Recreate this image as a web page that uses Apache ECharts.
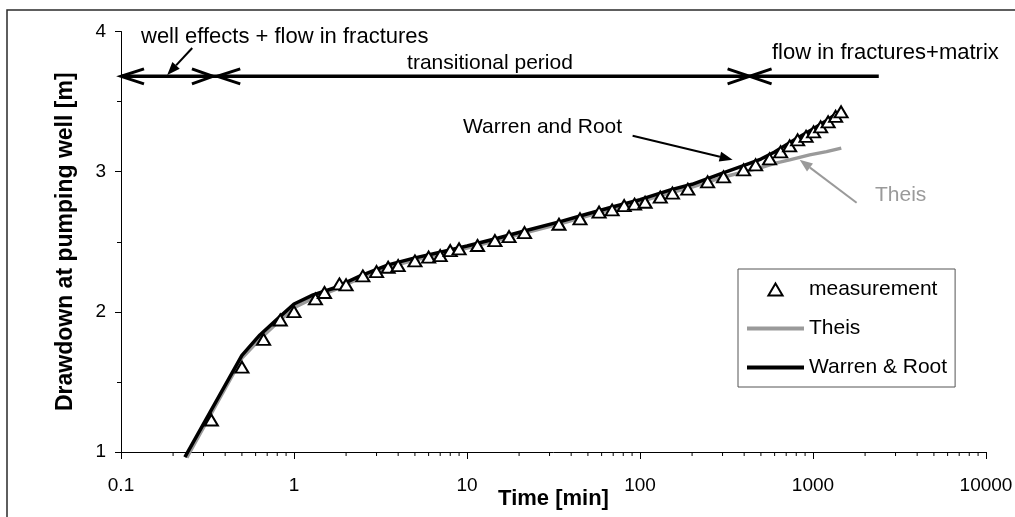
<!DOCTYPE html>
<html><head><meta charset="utf-8">
<script src="https://cdn.jsdelivr.net/npm/echarts@6/dist/echarts.min.js"></script>
<style>html,body{margin:0;padding:0;background:#fff}#c{width:1015px;height:517px}</style>
</head><body><div id="c"></div>
<script>
// ---- data ----
const measTime = [0.333,0.5,0.667,0.833,1,1.33,1.5,1.83,2,2.5,3,3.5,4,5,6,7,8,9,11.5,14.5,17.5,21.5,34,45,58,69,81,93,107,131,154,189,246,304,397,466,561,650,733,815,912,1008,1107,1223,1351,1453];
const measDrawdown = [1.228,1.605,1.804,1.942,2.001,2.092,2.138,2.199,2.192,2.256,2.287,2.318,2.33,2.363,2.39,2.401,2.437,2.449,2.473,2.508,2.537,2.565,2.625,2.663,2.711,2.727,2.758,2.768,2.782,2.818,2.847,2.875,2.927,2.963,3.013,3.049,3.091,3.141,3.184,3.227,3.252,3.284,3.32,3.355,3.395,3.427];
const theisTime = [0.24,0.5,0.64,0.83,1,1.3,1.7,2.4,3.5,5,7,10,15,22,35,50,70,100,150,200,300,376,511,616,733,956,1198,1457];
const theisDrawdown = [0.96,1.67,1.81,1.94,2.03,2.1,2.155,2.24,2.32,2.37,2.41,2.455,2.51,2.565,2.63,2.685,2.735,2.785,2.85,2.89,2.96,2.99,3.032,3.063,3.084,3.12,3.143,3.168];
const wrTime = [0.234,0.5,0.635,0.83,1,1.29,1.69,2.4,3.5,5,7,10,15,22,35,50,70,100,150,200,300,400,500,600,800,1000,1200,1450];
const wrDrawdown = [0.964,1.69,1.835,1.966,2.056,2.121,2.168,2.255,2.335,2.385,2.425,2.47,2.525,2.58,2.645,2.7,2.75,2.8,2.87,2.91,2.99,3.045,3.09,3.14,3.235,3.305,3.365,3.435];
const xTickLabels = ['0.1','1','10','100','1000','10000'];
const yTickLabels = ['1','2','3','4'];
const minorMultipliers = [2,3,4,5,6,7,8,9];
const decades = [0.1,1,10,100,1000];
const seriesNames = ['measurement','Theis','Warren & Root'];
// annotation anchors (data space)
const phaseLineY = 3.68, phaseLineEnd = 2400;
const phaseBounds = [0.1, 0.34, 0.36, 430];

const FONT = '"Liberation Sans", Arial, sans-serif';
const GREY = '#9a9a9a';
const zip = (a,b) => a.map((v,i)=>[v,b[i]]);
const minorTicks = [];
decades.forEach(d => minorMultipliers.forEach(m => minorTicks.push([d*m, 1])));

const chart = echarts.init(document.getElementById('c'), null, {renderer:'canvas'});
const option = {
  animation: false,
  backgroundColor: '#fff',
  grid: {left:121, right:29, top:31.5, bottom:65, containLabel:false, outerBoundsMode:'none'},
  legend: {
    data: [
      {name:seriesNames[0], icon:'path://M6.5,0 L13,11 L0,11 Z'},
      {name:seriesNames[1], itemStyle:{opacity:0}},
      {name:seriesNames[2], itemStyle:{opacity:0}}
    ],
    orient:'vertical', left:738, top:269, symbolKeepAspect:true,
    itemWidth:57, itemHeight:12, itemGap:18, padding:[10,8,9,7],
    borderColor:'#555', borderWidth:1, borderRadius:0, backgroundColor:'#fff',
    lineStyle:{width:4},
    textStyle:{fontSize:21, fontFamily:FONT, color:'#000', lineHeight:21}
  },
  xAxis: {
    type:'log', logBase:10, min:0.1, max:10000,
    name:'Time [min]', nameLocation:'middle', nameGap:36, nameMoveOverlap:false,
    nameTextStyle:{fontSize:22, fontWeight:'bold', fontFamily:FONT, color:'#000'},
    axisLine:{show:true, onZero:false, lineStyle:{color:'#000', width:1}},
    axisTick:{show:true, length:7, lineStyle:{color:'#000'}},
    minorTick:{show:false}, splitLine:{show:false}, minorSplitLine:{show:false},
    axisLabel:{show:true, margin:24, fontSize:19, fontFamily:FONT, color:'#000',
      formatter: v => xTickLabels[Math.round(Math.log10(v))+1] || ''}
  },
  yAxis: {
    type:'value', min:1, max:4, interval:1,
    name:'Drawdown at pumping well [m]', nameLocation:'middle', nameGap:44, nameRotate:90, nameMoveOverlap:false,
    nameTextStyle:{fontSize:23, fontWeight:'bold', fontFamily:FONT, color:'#000'},
    axisLine:{show:true, onZero:false, lineStyle:{color:'#000', width:1}},
    axisTick:{show:true, length:6, lineStyle:{color:'#000'}},
    minorTick:{show:true, splitNumber:2, length:4, lineStyle:{color:'#000'}},
    splitLine:{show:false}, minorSplitLine:{show:false},
    axisLabel:{margin:15, fontSize:19, fontFamily:FONT, color:'#000',
      formatter: v => yTickLabels[Math.round(v)-1] || ''}
  },
  series: [
    {name:'Theis', type:'line', data:zip(theisTime, theisDrawdown), symbol:'none', showSymbol:false,
      clip:false, z:2, lineStyle:{color:GREY, width:3.5}, itemStyle:{color:GREY}},
    {name:'Warren & Root', type:'line', data:zip(wrTime, wrDrawdown), symbol:'none', showSymbol:false,
      clip:false, z:3, lineStyle:{color:'#000', width:3.5}, itemStyle:{color:'#000'}},
    {name:'measurement', type:'scatter', data:zip(measTime, measDrawdown), symbol:'triangle',
      symbolSize:[13,11], z:5, itemStyle:{color:'#fff', borderColor:'#000', borderWidth:2, opacity:1}},
    {name:'minorTicks', type:'custom', data:minorTicks, clip:false, silent:true, z:1,
      renderItem:(params, api) => {
        const p = api.coord([api.value(0), api.value(1)]);
        return {type:'line', shape:{x1:p[0], y1:p[1], x2:p[0], y2:p[1]+4}, style:{stroke:'#000', lineWidth:1}};
      }}
  ]
};
chart.setOption(option);

// ---- annotations anchored to data coordinates ----
const px = (x,y) => chart.convertToPixel({gridIndex:0}, [x,y]);
const g = [];
g.push({type:'rect', shape:{x:7, y:10, width:1100, height:600}, style:{fill:null, stroke:'#2a2a2a', lineWidth:1.5}, z:0, silent:true});
const a = px(phaseBounds[0], phaseLineY), b = px(phaseLineEnd, phaseLineY);
g.push({type:'line', shape:{x1:a[0], y1:a[1], x2:b[0], y2:b[1]}, style:{stroke:'#000', lineWidth:3.5}, z:10});
function chev(x, y, dir, len) {
  const dx = dir==='left' ? len : -len;
  g.push({type:'polyline', shape:{points:[[x+dx,y-7.5],[x,y],[x+dx,y+7.5]]}, style:{stroke:'#000', lineWidth:3, fill:null}, z:10});
}
const c0 = px(phaseBounds[0], phaseLineY); chev(c0[0], c0[1], 'left', 23);
const c1 = px(phaseBounds[1], phaseLineY); chev(c1[0], c1[1], 'right', 21);
const c2 = px(phaseBounds[2], phaseLineY); chev(c2[0], c2[1], 'left', 23);
const c3 = px(phaseBounds[3], phaseLineY); chev(c3[0], c3[1], 'right', 22); chev(c3[0], c3[1], 'left', 22);

function arrow(tip, dx, dy, color, w) {
  const x1 = tip[0]+dx, y1 = tip[1]+dy;
  const L = Math.hypot(dx,dy), ux = -dx/L, uy = -dy/L;
  const hl = 13, hw = 5;
  const bx = tip[0]-ux*hl, by = tip[1]-uy*hl;
  g.push({type:'line', shape:{x1:x1, y1:y1, x2:bx, y2:by}, style:{stroke:color, lineWidth:w}, z:10});
  g.push({type:'polygon', shape:{points:[[tip[0],tip[1]],[bx-uy*hw,by+ux*hw],[bx+uy*hw,by-ux*hw]]}, style:{fill:color}, z:10});
}
arrow(px(0.185, 3.69), 25, -27, '#000', 2);
arrow(px(343, 3.085), -100, -24, '#000', 2);
arrow(px(837, 3.085), 57, 43, GREY, 2);

function txt(s, x, y, align, color, size) {
  g.push({type:'text', x:x, y:y, z:10, style:{text:s, fontSize:size||21, fontFamily:FONT, fill:color||'#000', align:align||'left', verticalAlign:'middle'}});
}
txt('well effects + flow in fractures', 141, 37, 'left', '#000', 22);
txt('transitional period', 490, 63, 'center');
txt('flow in fractures+matrix', 772, 53, 'left', '#000', 22);
txt('Warren and Root', 463, 127);
txt('Theis', 875, 195, 'left', GREY);
chart.setOption({graphic: g});
</script></body></html>
